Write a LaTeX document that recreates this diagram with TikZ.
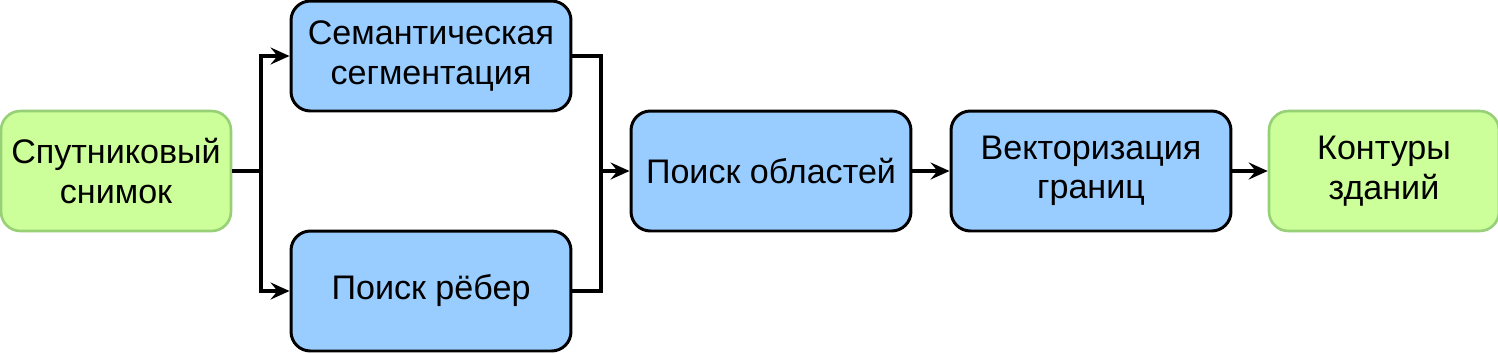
\documentclass[tikz,border=0pt]{standalone}
\usepackage{fontspec}
\setmainfont{Liberation Sans}
\usetikzlibrary{arrows.meta}
\definecolor{stepblue}{HTML}{99CCFF}
\definecolor{stepgreen}{HTML}{CCFF99}
\definecolor{edgegreen}{HTML}{97D077}
\tikzset{
  procbox/.style={draw,rounded corners=11pt,line width=1.7pt,align=center,fill=stepblue,inner sep=2pt,minimum width=5.6cm,minimum height=2.2cm,font=\fontsize{19.4}{22.5}\selectfont},
  iobox/.style={draw=edgegreen,rounded corners=11pt,line width=1.5pt,align=center,fill=stepgreen,inner sep=2pt,minimum width=4.6cm,minimum height=2.4cm,font=\fontsize{19.4}{22.5}\selectfont},
  flow/.style={-{Stealth[length=3.8mm,width=3.4mm,inset=1.4mm]},line width=1.9pt},
  flowplain/.style={line width=1.9pt}
}
\begin{document}
\begin{tikzpicture}[x=0.02cm,y=-0.02cm]
  \useasboundingbox (0,0) rectangle (1498,353);
  \node[iobox] (img) at (116,171) {Спутниковый\\снимок};
  \node[procbox] (seg) at (431,56) {Семантическая\\сегментация};
  \node[procbox,minimum height=2.4cm] (edges) at (431,291) {Поиск рёбер};
  \node[procbox,minimum height=2.4cm] (regions) at (771,171) {Поиск областей};
  \node[procbox,minimum height=2.4cm] (vect) at (1091,171) {Векторизация\\границ};
  \node[iobox] (out) at (1384,171) {Контуры\\зданий};

  \coordinate (split) at (261,171);
  \coordinate (merge) at (601,171);
  \draw[flowplain] (img.east) -- (split);
  \draw[flow] (split) |- (seg.west);
  \draw[flow] (split) |- (edges.west);
  \draw[flowplain] (seg.east) -| (merge);
  \draw[flowplain] (edges.east) -| (merge);
  \draw[flow] (merge) -- (regions.west);
  \draw[flow] (regions) -- (vect);
  \draw[flow] (vect) -- (out);
\end{tikzpicture}
\end{document}
